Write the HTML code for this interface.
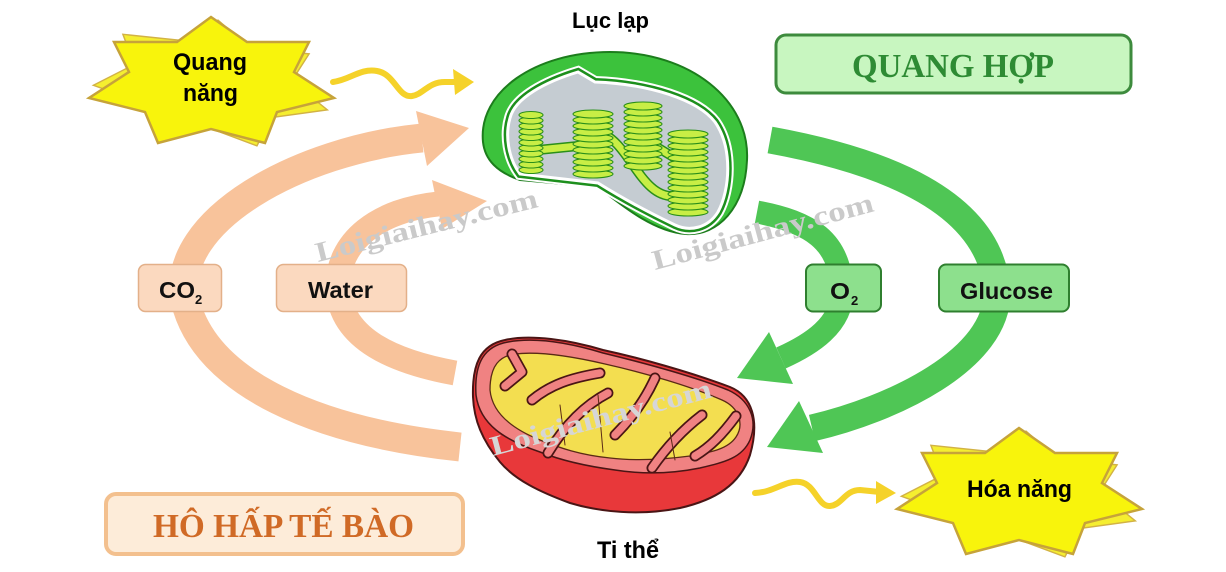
<!DOCTYPE html>
<html><head><meta charset="utf-8"><style>
html,body{margin:0;padding:0;background:#fff;}
svg{display:block;}
text{font-family:"Liberation Sans",sans-serif;font-weight:bold;}
.serif{font-family:"Liberation Serif",serif;font-weight:bold;}
</style></head><body>
<svg width="1226" height="572" viewBox="0 0 1226 572" xmlns="http://www.w3.org/2000/svg">
<rect width="1226" height="572" fill="#fff"/>

<!-- Orange arcs -->
<path d="M460,447 C320,432 205,385 185,300 C170,220 300,150 422,138" fill="none" stroke="#f8c39b" stroke-width="29"/>
<polygon points="416,111 469,128 427,166" fill="#f8c39b"/>
<path d="M455,373 C395,362 342,340 338,290 C336,240 380,210 438,204" fill="none" stroke="#f8c39b" stroke-width="25"/>
<polygon points="432,180 487,201 442,229" fill="#f8c39b"/>

<!-- Green arcs -->
<path d="M770,140 C880,160 990,200 997,290 C1000,360 890,410 812,428" fill="none" stroke="#4fc655" stroke-width="27"/>
<polygon points="799,401 767,447 823,453" fill="#4fc655"/>
<path d="M757,212 C810,222 840,240 842,290 C843,325 810,345 781,358" fill="none" stroke="#4fc655" stroke-width="23"/>
<polygon points="769,332 737,378 793,384" fill="#4fc655"/>

<!-- Wavy arrows -->
<path d="M333,82 C350,80 360,68 377,71 C395,74 398,98 412,96 C424,94 428,82 445,82 L456,82" fill="none" stroke="#f5d22a" stroke-width="6" stroke-linecap="round"/>
<polygon points="453,69 474,82 455,95" fill="#f5d22a"/>
<path d="M755,493 C775,492 785,480 800,482 C815,484 818,507 830,506 C842,505 845,490 860,490 L880,492" fill="none" stroke="#f5d22a" stroke-width="6" stroke-linecap="round"/>
<polygon points="876,481 896,493 876,504" fill="#f5d22a"/>

<!-- Stars -->
<g transform="rotate(6 211 87) translate(211 87) scale(0.96) translate(-211 -87)"><polygon points="211,17 247,42 309,42 294,72 334,98 277,112 265,143 211,129 158,143 145,112 89,98 129,72 114,42 177,42" fill="#f5ee30" stroke="#d2b245" stroke-width="1.5"/></g>
<polygon points="211,17 247,42 309,42 294,72 334,98 277,112 265,143 211,129 158,143 145,112 89,98 129,72 114,42 177,42" fill="#f8f40c" stroke="#c6a33a" stroke-width="2.5" stroke-linejoin="miter"/>
<text x="173" y="70" font-size="24" textLength="74" lengthAdjust="spacingAndGlyphs" fill="#000">Quang</text>
<text x="183" y="101" font-size="24" textLength="55" lengthAdjust="spacingAndGlyphs" fill="#000">năng</text>

<g transform="rotate(6 1019 498) translate(1019 498) scale(0.96) translate(-1019 -498)"><polygon points="1019,428 1055,453 1117,453 1102,483 1142,509 1085,523 1073,554 1019,540 966,554 953,523 897,509 937,483 922,453 985,453" fill="#f5ee30" stroke="#d2b245" stroke-width="1.5"/></g>
<polygon points="1019,428 1055,453 1117,453 1102,483 1142,509 1085,523 1073,554 1019,540 966,554 953,523 897,509 937,483 922,453 985,453" fill="#f8f40c" stroke="#c6a33a" stroke-width="2.5"/>
<text x="967" y="497" font-size="24" textLength="105" lengthAdjust="spacingAndGlyphs" fill="#000">Hóa năng</text>

<!-- Chloroplast -->
<path d="M483,142 C478,92 535,52 610,52 C690,52 750,100 747,160 C745,208 718,236 686,234 C655,232 625,208 598,187 L520,180 C497,172 485,160 483,142 Z" fill="#3cc23c" stroke="#1c7d1c" stroke-width="2"/>
<path d="M510,118 C515,98 545,82 578,72 L595,82 C650,84 698,100 715,122 C733,148 730,190 718,212 C708,228 690,232 675,225 C650,213 622,198 598,183 L520,174 C508,158 505,135 510,118 Z" fill="none" stroke="#fff" stroke-width="12"/>
<path d="M510,118 C515,98 545,82 578,72 L595,82 C650,84 698,100 715,122 C733,148 730,190 718,212 C708,228 690,232 675,225 C650,213 622,198 598,183 L520,174 C508,158 505,135 510,118 Z" fill="none" stroke="#1d8f1d" stroke-width="8"/>
<path d="M510,118 C515,98 545,82 578,72 L595,82 C650,84 698,100 715,122 C733,148 730,190 718,212 C708,228 690,232 675,225 C650,213 622,198 598,183 L520,174 C508,158 505,135 510,118 Z" fill="#c5ccd2" stroke="#fff" stroke-width="3"/>
<!-- lamellae -->
<g fill="none" stroke-linecap="round">
<path d="M538,150 L578,146" stroke="#2a8f1a" stroke-width="10"/>
<path d="M538,150 L578,146" stroke="#c8ee45" stroke-width="7"/>
<path d="M598,132 C630,140 640,200 676,196" stroke="#2a8f1a" stroke-width="10"/>
<path d="M598,132 C630,140 640,200 676,196" stroke="#c8ee45" stroke-width="7"/>
<path d="M655,146 L675,158" stroke="#2a8f1a" stroke-width="10"/>
<path d="M655,146 L675,158" stroke="#c8ee45" stroke-width="7"/>
</g>
<g fill="#c8ee45" stroke="#2a8f1a" stroke-width="1.1">
<!-- stack1 -->
<ellipse cx="531" cy="170" rx="12" ry="3.5"/><ellipse cx="531" cy="164.5" rx="12" ry="3.5"/><ellipse cx="531" cy="159" rx="12" ry="3.5"/><ellipse cx="531" cy="153.5" rx="12" ry="3.5"/><ellipse cx="531" cy="148" rx="12" ry="3.5"/><ellipse cx="531" cy="142.5" rx="12" ry="3.5"/><ellipse cx="531" cy="137" rx="12" ry="3.5"/><ellipse cx="531" cy="131.5" rx="12" ry="3.5"/><ellipse cx="531" cy="126" rx="12" ry="3.5"/><ellipse cx="531" cy="120.5" rx="12" ry="3.5"/><ellipse cx="531" cy="115" rx="12" ry="3.5"/>
<!-- stack2 -->
<ellipse cx="593" cy="174" rx="20" ry="4"/><ellipse cx="593" cy="168" rx="20" ry="4"/><ellipse cx="593" cy="162" rx="20" ry="4"/><ellipse cx="593" cy="156" rx="20" ry="4"/><ellipse cx="593" cy="150" rx="20" ry="4"/><ellipse cx="593" cy="144" rx="20" ry="4"/><ellipse cx="593" cy="138" rx="20" ry="4"/><ellipse cx="593" cy="132" rx="20" ry="4"/><ellipse cx="593" cy="126" rx="20" ry="4"/><ellipse cx="593" cy="120" rx="20" ry="4"/><ellipse cx="593" cy="114" rx="20" ry="4"/>
<!-- stack3 -->
<ellipse cx="643" cy="166" rx="19" ry="4"/><ellipse cx="643" cy="160" rx="19" ry="4"/><ellipse cx="643" cy="154" rx="19" ry="4"/><ellipse cx="643" cy="148" rx="19" ry="4"/><ellipse cx="643" cy="142" rx="19" ry="4"/><ellipse cx="643" cy="136" rx="19" ry="4"/><ellipse cx="643" cy="130" rx="19" ry="4"/><ellipse cx="643" cy="124" rx="19" ry="4"/><ellipse cx="643" cy="118" rx="19" ry="4"/><ellipse cx="643" cy="112" rx="19" ry="4"/><ellipse cx="643" cy="106" rx="19" ry="4"/>
<!-- stack4 -->
<ellipse cx="688" cy="212" rx="20" ry="4"/><ellipse cx="688" cy="206" rx="20" ry="4"/><ellipse cx="688" cy="200" rx="20" ry="4"/><ellipse cx="688" cy="194" rx="20" ry="4"/><ellipse cx="688" cy="188" rx="20" ry="4"/><ellipse cx="688" cy="182" rx="20" ry="4"/><ellipse cx="688" cy="176" rx="20" ry="4"/><ellipse cx="688" cy="170" rx="20" ry="4"/><ellipse cx="688" cy="164" rx="20" ry="4"/><ellipse cx="688" cy="158" rx="20" ry="4"/><ellipse cx="688" cy="152" rx="20" ry="4"/><ellipse cx="688" cy="146" rx="20" ry="4"/><ellipse cx="688" cy="140" rx="20" ry="4"/><ellipse cx="688" cy="134" rx="20" ry="4"/>
</g>

<!-- Mitochondrion -->
<path d="M473,397 C472,365 480,345 505,340 C530,334 570,340 603,350 C640,358 690,372 730,387 C752,396 760,420 750,455 C740,485 715,500 680,508 C640,516 600,512 570,503 C540,492 515,480 500,462 C482,440 474,420 473,397 Z" fill="#e8383a" stroke="#4a1515" stroke-width="2"/>
<path d="M476,395 C474,362 485,346 508,342 C535,337 570,343 603,353 C640,362 690,375 728,390 C750,400 758,420 750,440 C742,458 725,462 700,468 C670,474 640,474 615,470 C585,466 560,460 540,452 C505,440 480,425 476,395 Z" fill="#f08282" stroke="#4a1515" stroke-width="1.5"/>
<path d="M490,390 C490,365 500,356 515,354 C540,351 575,357 605,364 C645,373 690,386 722,400 C740,408 744,425 736,437 C728,449 712,452 690,456 C660,460 635,461 610,458 C580,455 560,448 540,440 C510,428 492,412 490,390 Z" fill="#f3de50" stroke="#5a2a15" stroke-width="1.3"/>
<g fill="none" stroke-linecap="round" stroke-linejoin="round">
<g stroke="#4a1515" stroke-width="11">
<path d="M512,354 L522,372 L505,386"/>
<path d="M532,400 C550,385 570,378 600,373"/>
<path d="M548,453 C565,425 585,405 608,393"/>
<path d="M655,378 C645,400 630,420 615,435"/>
<path d="M652,468 C668,445 685,428 702,415"/>
<path d="M736,416 C722,435 710,447 695,456"/>
</g>
<g stroke="#f08282" stroke-width="7.5">
<path d="M512,354 L522,372 L505,386"/>
<path d="M532,400 C550,385 570,378 600,373"/>
<path d="M548,453 C565,425 585,405 608,393"/>
<path d="M655,378 C645,400 630,420 615,435"/>
<path d="M652,468 C668,445 685,428 702,415"/>
<path d="M736,416 C722,435 710,447 695,456"/>
</g>
<g stroke="#5a2a15" stroke-width="1">
<path d="M598,395 L603,452"/>
<path d="M560,405 L565,445"/>
<path d="M670,432 L675,460"/>
</g>
</g>

<!-- Watermarks -->
<text class="serif" x="318" y="262" font-size="28" textLength="228" lengthAdjust="spacingAndGlyphs" fill="#cacaca" transform="rotate(-14 318 262)">Loigiaihay.com</text>
<text class="serif" x="655" y="270" font-size="28" textLength="228" lengthAdjust="spacingAndGlyphs" fill="#cacaca" transform="rotate(-15 655 270)">Loigiaihay.com</text>
<text class="serif" x="493" y="456" font-size="28" textLength="228" lengthAdjust="spacingAndGlyphs" fill="#d6d6d6" transform="rotate(-15 493 456)">Loigiaihay.com</text>

<!-- Small boxes -->
<rect x="138.5" y="264.5" width="83" height="47" rx="7" fill="#fbd9bf" stroke="#e3b089" stroke-width="1.5"/>
<text x="159" y="298" font-size="23" textLength="36" lengthAdjust="spacingAndGlyphs" fill="#111">CO</text>
<text x="195" y="304" font-size="13" fill="#111">2</text>
<rect x="276.5" y="264.5" width="130" height="47" rx="7" fill="#fbd9bf" stroke="#e3b089" stroke-width="1.5"/>
<text x="308" y="298" font-size="23" textLength="65" lengthAdjust="spacingAndGlyphs" fill="#111">Water</text>

<rect x="806" y="264.5" width="75" height="47" rx="7" fill="#8de08d" stroke="#2f7f2f" stroke-width="2"/>
<text x="830" y="299" font-size="23" textLength="20" lengthAdjust="spacingAndGlyphs" fill="#111">O</text>
<text x="851" y="305" font-size="13" fill="#111">2</text>
<rect x="939" y="264.5" width="130" height="47" rx="7" fill="#8de08d" stroke="#2f7f2f" stroke-width="2"/>
<text x="960" y="299" font-size="23" textLength="93" lengthAdjust="spacingAndGlyphs" fill="#111">Glucose</text>

<!-- Title boxes -->
<rect x="776" y="35" width="355" height="58" rx="10" fill="#c8f6c0" stroke="#3d8b3d" stroke-width="3"/>
<text class="serif" x="852" y="77" font-size="34" textLength="202" lengthAdjust="spacingAndGlyphs" fill="#2e8b34">QUANG HỢP</text>
<rect x="106" y="494" width="357" height="60" rx="10" fill="#fdecd9" stroke="#f3c08e" stroke-width="4"/>
<text class="serif" x="153" y="537" font-size="34" textLength="261" lengthAdjust="spacingAndGlyphs" fill="#d06a26">HÔ HẤP TẾ BÀO</text>

<!-- Labels -->
<text x="572" y="28" font-size="22" textLength="77" lengthAdjust="spacingAndGlyphs" fill="#000">Lục lạp</text>
<text x="597" y="558" font-size="24" textLength="62" lengthAdjust="spacingAndGlyphs" fill="#000">Ti thể</text>
</svg>
</body></html>
